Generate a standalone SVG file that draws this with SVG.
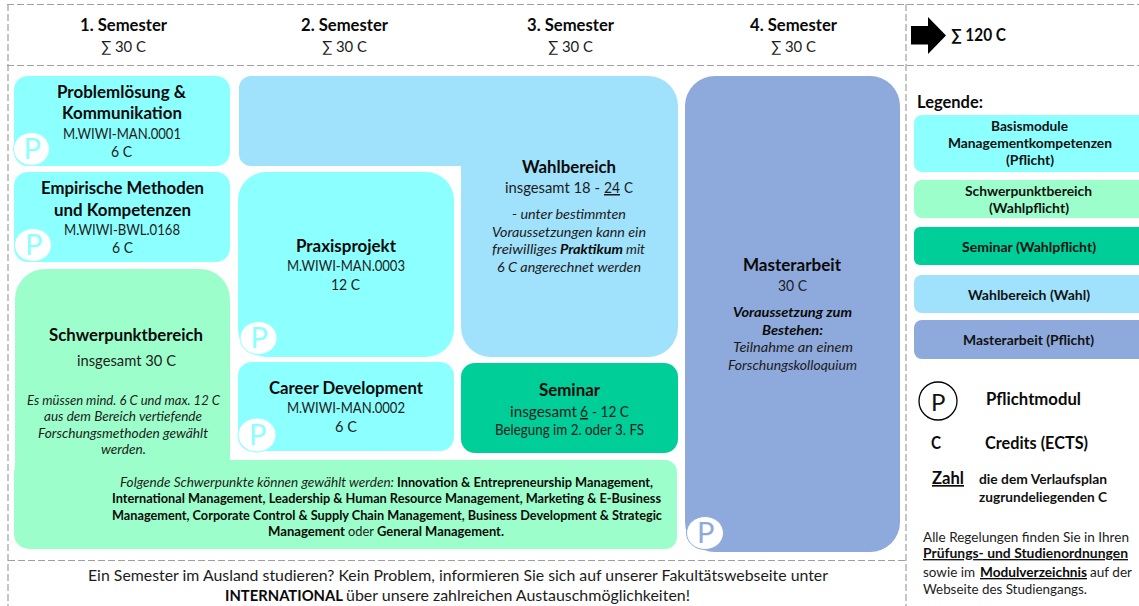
<svg xmlns="http://www.w3.org/2000/svg" width="1139" height="606" viewBox="0 0 1139 606">
<style>
text{font-family:Lato,"Liberation Sans",sans-serif;fill:#1c1c1c;font-size:14px;white-space:pre}
.h{font-size:16.500px;font-weight:700;fill:#0a0a0a}
.r{font-size:15px}
.c{font-size:14.500px}
.i{font-size:13.500px;font-style:italic}
.m{font-size:13.500px}
.l{font-size:13.500px;font-weight:700;fill:#111}
.b{font-weight:700;fill:#0a0a0a}
.u{text-decoration:underline}
.f{fill:none;stroke:#a0a0a0;stroke-width:1.200;stroke-dasharray:7 3}
.pc{fill:#fff;stroke-width:1}
.p{font-size:29px;font-weight:400}
</style>
<rect width="1139" height="606" fill="#fff"/>
<g id="frame">
<path class="f" d="M7 4.500H1139M7 65.500H1139M8 4V606M906 4V606M8 560.500H906"/>
</g>
<g id="header">
<text class="h" x="80" y="31" textLength="87" lengthAdjust="spacingAndGlyphs">1. Semester</text>
<text class="r" x="101" y="52" textLength="45" lengthAdjust="spacingAndGlyphs">∑ 30 C</text>
<text class="h" x="301" y="31" textLength="87" lengthAdjust="spacingAndGlyphs">2. Semester</text>
<text class="r" x="322" y="52" textLength="45" lengthAdjust="spacingAndGlyphs">∑ 30 C</text>
<text class="h" x="527" y="31" textLength="87" lengthAdjust="spacingAndGlyphs">3. Semester</text>
<text class="r" x="548" y="52" textLength="45" lengthAdjust="spacingAndGlyphs">∑ 30 C</text>
<text class="h" x="750" y="31" textLength="87" lengthAdjust="spacingAndGlyphs">4. Semester</text>
<text class="r" x="771" y="52" textLength="45" lengthAdjust="spacingAndGlyphs">∑ 30 C</text>
<path d="M911 26H928V17L946 35.500L928 54V44.500H911Z" fill="#000"/>
<text class="h" x="951" y="41" textLength="55" lengthAdjust="spacingAndGlyphs">∑ 120 C</text>
</g>
<g id="problemloesung">
<rect x="14" y="76" width="216" height="90" rx="14" fill="#8cffff"/>
<text class="h" x="57" y="98" textLength="129" lengthAdjust="spacingAndGlyphs">Problemlösung &amp;</text>
<text class="h" x="62" y="119" textLength="120" lengthAdjust="spacingAndGlyphs">Kommunikation</text>
<text class="c" x="63" y="139" textLength="118" lengthAdjust="spacingAndGlyphs">M.WIWI-MAN.0001</text>
<text class="c" x="111" y="157" textLength="21" lengthAdjust="spacingAndGlyphs">6 C</text>
<ellipse class="pc" cx="31.500" cy="149" rx="18" ry="16.500" stroke="#8cffff"/>
<text class="p" x="23.500" y="159" style="fill:#8cffff">P</text>
</g>
<g id="empirische">
<rect x="14" y="172" width="216" height="90" rx="14" fill="#8cffff"/>
<text class="h" x="41" y="194" textLength="163" lengthAdjust="spacingAndGlyphs">Empirische Methoden</text>
<text class="h" x="54" y="216" textLength="137" lengthAdjust="spacingAndGlyphs">und Kompetenzen</text>
<text class="c" x="64" y="235" textLength="116" lengthAdjust="spacingAndGlyphs">M.WIWI-BWL.0168</text>
<text class="c" x="112" y="253" textLength="21" lengthAdjust="spacingAndGlyphs">6 C</text>
<ellipse class="pc" cx="33" cy="245" rx="18.500" ry="16.500" stroke="#8cffff"/>
<text class="p" x="25" y="255" style="fill:#8cffff">P</text>
</g>
<g id="schwerpunktbereich">
<path d="M15 299A30 30 0 0 1 45 269H200A30 30 0 0 1 230 299V460H665A12 12 0 0 1 677 472V537A12 12 0 0 1 665 549H29A15 15 0 0 1 14 534V470H15Z" fill="#9cffcb"/>
<text class="h" x="49" y="341" textLength="154" lengthAdjust="spacingAndGlyphs">Schwerpunktbereich</text>
<text class="r" x="77" y="366" textLength="99" lengthAdjust="spacingAndGlyphs">insgesamt 30 C</text>
<text class="i" x="27" y="405" textLength="193" lengthAdjust="spacingAndGlyphs">Es müssen mind. 6 C und max. 12 C</text>
<text class="i" x="44" y="421" textLength="158" lengthAdjust="spacingAndGlyphs">aus dem Bereich vertiefende</text>
<text class="i" x="38" y="438" textLength="170" lengthAdjust="spacingAndGlyphs">Forschungsmethoden gewählt</text>
<text class="i" x="101" y="454" textLength="45" lengthAdjust="spacingAndGlyphs">werden.</text>
<text class="i" x="120" y="487" textLength="274" lengthAdjust="spacingAndGlyphs">Folgende Schwerpunkte können gewählt werden:</text>
<text class="m b" x="397" y="487" textLength="256" lengthAdjust="spacingAndGlyphs">Innovation &amp; Entrepreneurship Management,</text>
<text class="m b" x="112" y="503" textLength="549" lengthAdjust="spacingAndGlyphs">International Management, Leadership &amp; Human Resource Management, Marketing &amp; E-Business</text>
<text class="m b" x="112" y="520" textLength="550" lengthAdjust="spacingAndGlyphs">Management, Corporate Control &amp; Supply Chain Management, Business Development &amp; Strategic</text>
<text class="m b" x="268" y="536" textLength="77" lengthAdjust="spacingAndGlyphs">Management</text>
<text class="m" x="348" y="536" textLength="26" lengthAdjust="spacingAndGlyphs">oder</text>
<text class="m b" x="377" y="536" textLength="127" lengthAdjust="spacingAndGlyphs">General Management.</text>
</g>
<g id="wahlbereich">
<path d="M251 76H648A30 30 0 0 1 678 106V327A30 30 0 0 1 648 357H491A30 30 0 0 1 461 327V166H251A12 12 0 0 1 239 154V88A12 12 0 0 1 251 76Z" fill="#a0e1fb"/>
<text class="h" x="522" y="173" textLength="94" lengthAdjust="spacingAndGlyphs">Wahlbereich</text>
<text class="r" x="505" y="193" textLength="95" lengthAdjust="spacingAndGlyphs">insgesamt 18 -</text>
<text class="r u" x="604" y="193" textLength="16" lengthAdjust="spacingAndGlyphs">24</text>
<text class="r" x="624" y="193" textLength="9" lengthAdjust="spacingAndGlyphs">C</text>
<text class="i" x="512" y="219" textLength="114" lengthAdjust="spacingAndGlyphs">- unter bestimmten</text>
<text class="i" x="492" y="237" textLength="154" lengthAdjust="spacingAndGlyphs">Voraussetzungen kann ein</text>
<text class="i" x="492" y="254" textLength="65" lengthAdjust="spacingAndGlyphs">freiwilliges</text>
<text class="i b" x="560" y="254" textLength="63" lengthAdjust="spacingAndGlyphs">Praktikum</text>
<text class="i" x="626" y="254" textLength="19" lengthAdjust="spacingAndGlyphs">mit</text>
<text class="i" x="497" y="272" textLength="144" lengthAdjust="spacingAndGlyphs">6 C angerechnet werden</text>
</g>
<g id="praxisprojekt">
<rect x="238" y="172" width="216" height="185" rx="28" fill="#8cffff"/>
<text class="h" x="296" y="252" textLength="100" lengthAdjust="spacingAndGlyphs">Praxisprojekt</text>
<text class="c" x="287" y="271" textLength="118" lengthAdjust="spacingAndGlyphs">M.WIWI-MAN.0003</text>
<text class="r" x="331" y="290" textLength="29" lengthAdjust="spacingAndGlyphs">12 C</text>
<ellipse class="pc" cx="258.500" cy="338" rx="18.500" ry="16.500" stroke="#8cffff"/>
<text class="p" x="250.500" y="348" style="fill:#8cffff">P</text>
</g>
<g id="career">
<rect x="238" y="362" width="216" height="89" rx="14" fill="#8cffff"/>
<text class="h" x="269" y="394" textLength="154" lengthAdjust="spacingAndGlyphs">Career Development</text>
<text class="c" x="287" y="413" textLength="118" lengthAdjust="spacingAndGlyphs">M.WIWI-MAN.0002</text>
<text class="c" x="335" y="432" textLength="22" lengthAdjust="spacingAndGlyphs">6 C</text>
<ellipse class="pc" cx="257" cy="435" rx="19" ry="17" stroke="#8cffff"/>
<text class="p" x="249" y="445" style="fill:#8cffff">P</text>
</g>
<g id="seminar">
<rect x="461" y="363" width="217" height="90" rx="14" fill="#00ce98"/>
<text class="h" x="539" y="396" textLength="61" lengthAdjust="spacingAndGlyphs">Seminar</text>
<text class="r" x="510" y="417" textLength="67" lengthAdjust="spacingAndGlyphs">insgesamt</text>
<text class="r u" x="580" y="417" textLength="8" lengthAdjust="spacingAndGlyphs">6</text>
<text class="r" x="592" y="417" textLength="37" lengthAdjust="spacingAndGlyphs">- 12 C</text>
<text class="c" x="495" y="435" textLength="149" lengthAdjust="spacingAndGlyphs">Belegung im 2. oder 3. FS</text>
</g>
<g id="masterarbeit">
<rect x="685" y="76" width="215" height="476" rx="30" fill="#8ea9db"/>
<text class="h" x="743" y="271" textLength="98" lengthAdjust="spacingAndGlyphs">Masterarbeit</text>
<text class="r" x="778" y="291" textLength="29" lengthAdjust="spacingAndGlyphs">30 C</text>
<text class="i b" x="733" y="317" textLength="119" lengthAdjust="spacingAndGlyphs">Voraussetzung zum</text>
<text class="i b" x="762" y="335" textLength="61" lengthAdjust="spacingAndGlyphs">Bestehen:</text>
<text class="i" x="733" y="352" textLength="120" lengthAdjust="spacingAndGlyphs">Teilnahme an einem</text>
<text class="i" x="728" y="370" textLength="129" lengthAdjust="spacingAndGlyphs">Forschungskolloquium</text>
<ellipse class="pc" cx="705" cy="533" rx="18.500" ry="16.500" stroke="#8ea9db"/>
<text class="p" x="697" y="543" style="fill:#8ea9db">P</text>
</g>
<g id="hinweis">
<text class="r" x="88" y="581" textLength="740" lengthAdjust="spacingAndGlyphs">Ein Semester im Ausland studieren? Kein Problem, informieren Sie sich auf unserer Fakultätswebseite unter</text>
<text class="r b" x="225" y="601" textLength="118" lengthAdjust="spacingAndGlyphs">INTERNATIONAL</text>
<text class="r" x="346" y="601" textLength="344" lengthAdjust="spacingAndGlyphs">über unsere zahlreichen Austauschmöglichkeiten!</text>
</g>
<g id="legende">
<text class="h" x="917" y="108" textLength="66" lengthAdjust="spacingAndGlyphs">Legende:</text>
<g id="legende-basis">
<rect x="914" y="115" width="235" height="57" rx="8" fill="#8cffff"/>
<text class="l" x="991" y="131" textLength="77" lengthAdjust="spacingAndGlyphs">Basismodule</text>
<text class="l" x="948" y="148" textLength="164" lengthAdjust="spacingAndGlyphs">Managementkompetenzen</text>
<text class="l" x="1006" y="165" textLength="48" lengthAdjust="spacingAndGlyphs">(Pflicht)</text>
</g>
<g id="legende-schwerpunkt">
<rect x="914" y="180" width="235" height="38" rx="8" fill="#9cffcb"/>
<text class="l" x="965" y="196" textLength="127" lengthAdjust="spacingAndGlyphs">Schwerpunktbereich</text>
<text class="l" x="989" y="213" textLength="80" lengthAdjust="spacingAndGlyphs">(Wahlpflicht)</text>
</g>
<g id="legende-seminar">
<rect x="914" y="227" width="235" height="38" rx="6" fill="#00ce98"/>
<text class="l" x="962" y="252" textLength="134" lengthAdjust="spacingAndGlyphs">Seminar (Wahlpflicht)</text>
</g>
<g id="legende-wahl">
<rect x="914" y="275" width="235" height="38" rx="8" fill="#a0e1fb"/>
<text class="l" x="968" y="300" textLength="122" lengthAdjust="spacingAndGlyphs">Wahlbereich (Wahl)</text>
</g>
<g id="legende-master">
<rect x="914" y="320" width="235" height="39" rx="8" fill="#8ea9db"/>
<text class="l" x="963" y="345" textLength="131" lengthAdjust="spacingAndGlyphs">Masterarbeit (Pflicht)</text>
</g>
<g id="legende-pflichtmodul">
<circle cx="938" cy="401" r="19" fill="#fff" stroke="#000" stroke-width="1.300"/>
<text x="931" y="410.500" style="font-size:24px;fill:#111">P</text>
<text class="h" x="986" y="405" textLength="95" lengthAdjust="spacingAndGlyphs">Pflichtmodul</text>
</g>
<text class="h" x="931" y="449" textLength="10" lengthAdjust="spacingAndGlyphs">C</text>
<text class="h" x="985" y="449" textLength="103" lengthAdjust="spacingAndGlyphs">Credits (ECTS)</text>
<text class="h u" x="932" y="484" textLength="32" lengthAdjust="spacingAndGlyphs">Zahl</text>
<text class="l" x="979" y="484" textLength="128" lengthAdjust="spacingAndGlyphs">die dem Verlaufsplan</text>
<text class="l" x="979" y="502" textLength="128" lengthAdjust="spacingAndGlyphs">zugrundeliegenden C</text>
<text class="m" x="923" y="542" textLength="206" lengthAdjust="spacingAndGlyphs">Alle Regelungen finden Sie in Ihren</text>
<text class="l u" x="923" y="558" textLength="205" lengthAdjust="spacingAndGlyphs">Prüfungs- und Studienordnungen</text>
<text class="m" x="923" y="577" textLength="52" lengthAdjust="spacingAndGlyphs">sowie im</text>
<text class="m b u" x="980" y="577" textLength="107" lengthAdjust="spacingAndGlyphs">Modulverzeichnis</text>
<text class="m" x="1090" y="577" textLength="42" lengthAdjust="spacingAndGlyphs">auf der</text>
<text class="m" x="923" y="594" textLength="164" lengthAdjust="spacingAndGlyphs">Webseite des Studiengangs.</text>
</g>
</svg>
